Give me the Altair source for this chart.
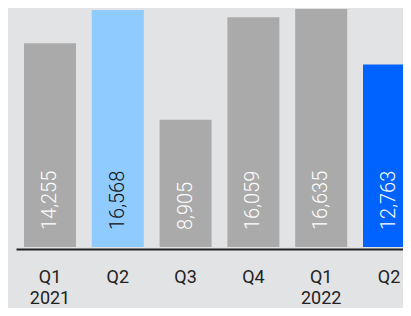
import altair as alt
import pandas as pd

quarters = ["Q1 2021", "Q2 2021", "Q3 2021", "Q4 2021", "Q1 2022", "Q2 2022"]
values = [14255, 16568, 8905, 16059, 16635, 12763]
groups = ["other", "prior", "other", "other", "other", "current"]

df = pd.DataFrame({"quarter": quarters, "value": values, "group": groups})

label_expr = (
    "indexof(datum.value, 'Q1') == 0 ? split(datum.value, ' ') : slice(datum.value, 0, 2)"
)

x_enc = alt.X(
    "quarter:N",
    sort=quarters,
    title=None,
    scale=alt.Scale(range=[0, 407], paddingInner=0.233, paddingOuter=0.118),
    axis=alt.Axis(
        labelAngle=0,
        ticks=False,
        tickSize=0,
        domainColor="#222222",
        domainWidth=2,
        offset=2,
        labelExpr=label_expr,
        labelFont="Roboto",
        labelFontSize=18,
        labelColor="#222222",
        labelBaseline="alphabetic",
        labelPadding=33,
        labelLineHeight=21,
        grid=False,
    ),
)

y_scale = alt.Scale(domain=[0, 16713], nice=False)

bars = alt.Chart(df).mark_bar(clip=True).encode(
    x=x_enc,
    y=alt.Y("value:Q", scale=y_scale, axis=None),
    color=alt.Color(
        "group:N",
        scale=alt.Scale(domain=["other", "prior", "current"],
                        range=["#aaaaaa", "#8fcbfe", "#0062ff"]),
        legend=None,
    ),
)

text = alt.Chart(df).mark_text(
    angle=270, align="left", baseline="middle", dx=17,
    fontSize=20, font="Roboto", fontWeight=300, clip=True,
).encode(
    x=x_enc,
    y=alt.datum(0, scale=y_scale),
    text=alt.Text("value:Q", format=","),
    color=alt.condition("datum.group == 'prior'", alt.value("#111111"), alt.value("#ffffff")),
)

chart = alt.layer(bars, text).properties(
    width=387,
    height=239,
    autosize=alt.AutoSizeParams(type="none"),
    padding={"left": 8, "top": 0, "right": 0, "bottom": 61},
    background="#e2e3e5",
).configure_view(stroke=None)

chart.save("out.html", embed_options={"renderer": "svg", "actions": False})
